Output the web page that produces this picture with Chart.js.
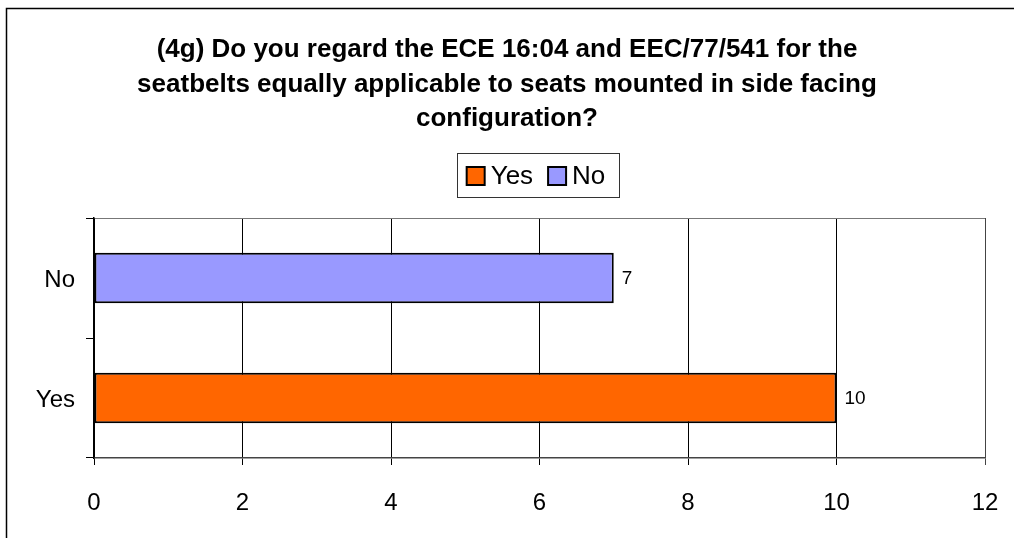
<!DOCTYPE html>
<html>
<head>
<meta charset="utf-8">
<script src="https://cdn.jsdelivr.net/npm/chart.js@4.4.1/dist/chart.umd.min.js"></script>
<style>
  html, body { margin: 0; padding: 0; background: #fff; }
  canvas { display: block; }
</style>
</head>
<body>
<canvas id="chart" width="1014" height="538"></canvas>
<script>
// data
const categories = ['No', 'Yes'];
const yesValues = [null, 10];
const noValues = [7, null];
const xTicks = [0, 2, 4, 6, 8, 10, 12];
const titleLines = [
    '(4g) Do you regard the ECE 16:04 and EEC/77/541 for the',
    'seatbelts equally applicable to seats mounted in side facing',
    'configuration?'
];

const FONT = 'Arial, "Liberation Sans", sans-serif';
const LEGEND_FONT = 26;
const LEGEND_BOX = 18;

// outer frame (only top + left edges are visible in the reference)
const framePlugin = {
    id: 'frame',
    beforeDraw(chart) {
        const c = chart.ctx;
        c.save();
        c.strokeStyle = '#000';
        c.lineWidth = 1.5;
        c.beginPath();
        c.moveTo(6.5, chart.height);
        c.lineTo(6.5, 8.5);
        c.lineTo(chart.width, 8.5);
        c.stroke();
        c.restore();
    }
};

// value labels at the end of the bars
const valueLabels = {
    id: 'valueLabels',
    afterDatasetsDraw(chart) {
        const c = chart.ctx;
        c.save();
        c.font = '19px ' + FONT;
        c.fillStyle = '#000';
        c.textAlign = 'left';
        c.textBaseline = 'middle';
        chart.data.datasets.forEach((ds, i) => {
            chart.getDatasetMeta(i).data.forEach((bar, j) => {
                if (ds.data[j] == null) return;
                c.fillText(ds.data[j], bar.x + 8, bar.y + 1);
            });
        });
        c.restore();
    }
};

// legend text closer to the swatch + box around the legend
const legendBox = {
    id: 'legendBox',
    afterDraw(chart) {
        const legend = chart.legend;
        const boxes = legend && legend.legendHitBoxes;
        if (!boxes || !boxes.length) return;
        const c = chart.ctx;
        c.save();
        c.font = LEGEND_FONT + 'px ' + FONT;
        c.fillStyle = '#000';
        c.textAlign = 'left';
        c.textBaseline = 'middle';
        let right = 0;
        legend.legendItems.forEach((item, i) => {
            const b = boxes[i];
            const tx = b.left + LEGEND_BOX + 6;
            c.fillText(item.text, tx, b.top + b.height / 2 + 1);
            right = Math.max(right, tx + c.measureText(item.text).width);
        });
        const left = boxes[0].left;
        const top = boxes[0].top;
        c.strokeStyle = '#333';
        c.lineWidth = 1;
        c.strokeRect(Math.round(left) - 9.5, Math.round(top) - 9.5, Math.round(right - left) + 23, 44);
        c.restore();
    }
};

new Chart(document.getElementById('chart'), {
    type: 'bar',
    data: {
        labels: categories,
        datasets: [
            {
                label: 'Yes',
                data: yesValues,
                backgroundColor: '#FF6600',
                borderColor: '#000',
                borderWidth: 2,
                borderSkipped: false
            },
            {
                label: 'No',
                data: noValues,
                backgroundColor: '#9999FF',
                borderColor: '#000',
                borderWidth: 2,
                borderSkipped: false
            }
        ]
    },
    options: {
        indexAxis: 'y',
        responsive: false,
        animation: false,
        grouped: false,
        categoryPercentage: 1,
        barPercentage: 0.42,
        layout: { padding: 0 },
        plugins: {
            title: {
                display: true,
                text: titleLines,
                color: '#000',
                font: { family: FONT, size: 26, weight: 'bold', lineHeight: 1.327 },
                padding: { top: 33, bottom: 18.5 }
            },
            subtitle: {
                // spacer between legend and plot area
                display: true,
                text: ' ',
                weight: 500,
                font: { size: 1, lineHeight: 1 },
                padding: { top: 0, bottom: 18 }
            },
            legend: {
                display: true,
                position: 'top',
                fullSize: false,
                labels: {
                    color: 'rgba(0,0,0,0)',
                    font: { family: FONT, size: LEGEND_FONT },
                    boxWidth: LEGEND_BOX,
                    boxHeight: LEGEND_BOX,
                    padding: 8
                }
            },
            tooltip: { enabled: false }
        },
        scales: {
            x: {
                min: 0,
                max: 12,
                afterBuildTicks(scale) {
                    scale.ticks = xTicks.map(v => ({ value: v }));
                },
                afterFit(scale) {
                    scale.height = 80;
                    scale.paddingLeft = 0;
                    scale.paddingRight = 29;
                },
                grid: {
                    color: ctx => ctx.index === xTicks.length - 1 ? '#444' : '#000',
                    lineWidth: 1,
                    tickLength: 7
                },
                border: { color: '#444', width: 1.5 },
                ticks: {
                    color: '#000',
                    font: { family: FONT, size: 24 },
                    padding: 24
                }
            },
            y: {
                afterFit(scale) { scale.width = 94; },
                grid: {
                    offset: true,
                    color: ctx => ctx.index === 0 ? '#777' : 'rgba(0,0,0,0)',
                    tickColor: '#000',
                    lineWidth: 1,
                    tickLength: 8
                },
                border: { color: '#000', width: 1.5 },
                ticks: {
                    color: '#000',
                    font: { family: FONT, size: 24 },
                    padding: 11,
                    labelOffset: 2
                }
            }
        }
    },
    plugins: [framePlugin, valueLabels, legendBox]
});
</script>
</body>
</html>
